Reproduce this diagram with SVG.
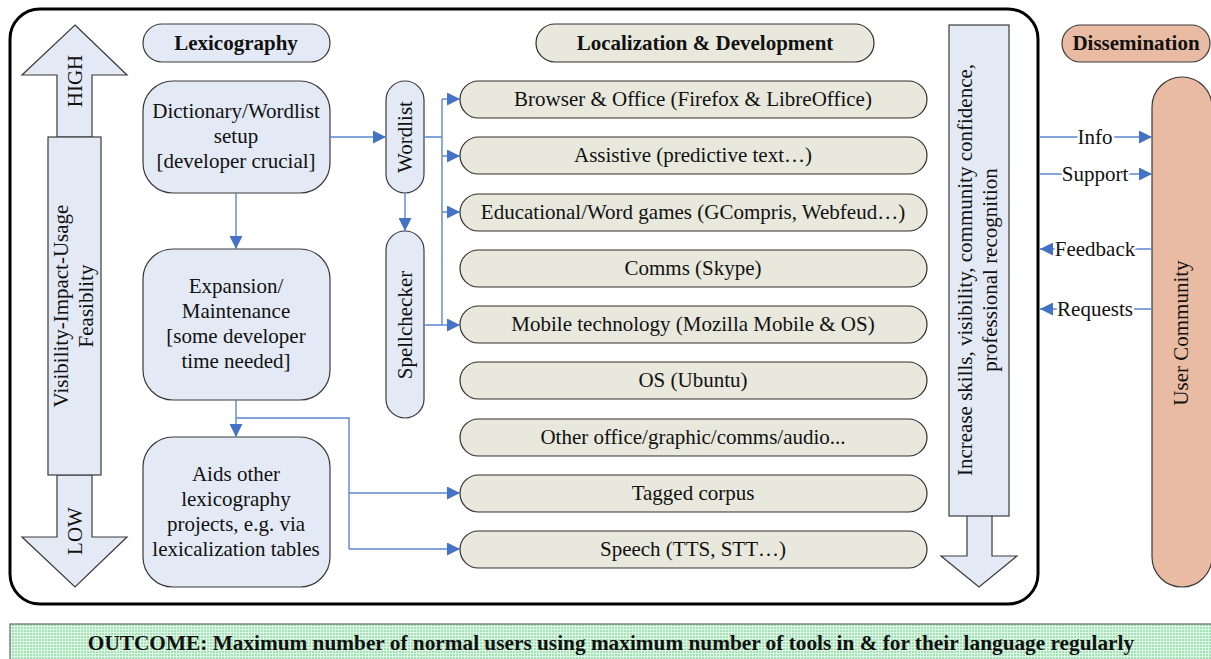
<svg xmlns="http://www.w3.org/2000/svg" width="1211" height="659" viewBox="0 0 1211 659">
  <style>
    text { font-family: "Liberation Serif", "Times New Roman", serif; font-size: 21px; fill: #111; }
    .c { text-anchor: middle; }
    .b { font-weight: bold; }
    .blue { fill: #E4EAF5; stroke: #3a3a3a; stroke-width: 1.2; }
    .tool { fill: #E8E8DD; stroke: #2e2e2e; stroke-width: 1.2; }
    .salmon { fill: #E8BBA2; stroke: #3a3a3a; stroke-width: 1.2; }
    .link { fill: none; stroke: #5B86CF; stroke-width: 1.4; }
    .halo { paint-order: stroke; stroke: #fff; stroke-width: 5px; stroke-linejoin: round; }
  </style>
  <defs>
    <marker id="ahL" viewBox="0 0 14 14" refX="14" refY="7" markerWidth="14" markerHeight="13" markerUnits="userSpaceOnUse" orient="auto">
      <path d="M0,0 L14,7 L0,14 z" fill="#4472C4"/>
    </marker>
    <pattern id="dots" width="3" height="3" patternUnits="userSpaceOnUse">
      <rect width="3" height="3" fill="#E2F6E7"/>
      <rect x="0" y="0" width="2" height="2" fill="#9FE2B3"/>
    </pattern>
  </defs>

  <!-- main frame -->
  <rect id="frame" x="10" y="9" width="1028" height="595" rx="30" ry="30" fill="#fff" stroke="#000" stroke-width="3"/>

  <!-- priority scale: double arrow on the left -->
  <g id="scale">
    <path class="blue" d="M75,25 L127,75 L92,75 L92,137 L57,137 L57,75 L22,75 Z"/>
    <path class="blue" d="M57,475 L92,475 L92,537 L127,537 L75,587 L22,537 L57,537 Z"/>
    <rect class="blue" x="48" y="137" width="53" height="338"/>
    <text class="c" transform="translate(82,81) rotate(-90)">HIGH</text>
    <text class="c" transform="translate(82,531) rotate(-90)">LOW</text>
    <text class="c" transform="translate(68,306) rotate(-90)">Visibility-Impact-Usage</text>
    <text class="c" transform="translate(93,306) rotate(-90)">Feasiblity</text>
  </g>

  <!-- column headers -->
  <g id="hdr-lex">
    <rect class="blue" x="143" y="24" width="187" height="38" rx="19"/>
    <text class="c b" x="236" y="50">Lexicography</text>
  </g>
  <g id="hdr-loc">
    <rect class="tool" x="536" y="24" width="338" height="38" rx="19"/>
    <text class="c b" x="705" y="50">Localization &amp; Development</text>
  </g>
  <g id="hdr-dis">
    <rect class="salmon" x="1062" y="25" width="148" height="37" rx="18.5"/>
    <text class="c b" x="1136" y="50">Dissemination</text>
  </g>

  <!-- lexicography stages -->
  <g id="dict">
    <rect class="blue" x="143" y="81" width="187" height="112" rx="30"/>
    <text class="c" x="236" y="118">Dictionary/Wordlist</text>
    <text class="c" x="236" y="143">setup</text>
    <text class="c" x="236" y="168">[developer crucial]</text>
  </g>
  <g id="expansion">
    <rect class="blue" x="143" y="249" width="187" height="151" rx="30"/>
    <text class="c" x="236" y="293">Expansion/</text>
    <text class="c" x="236" y="318">Maintenance</text>
    <text class="c" x="236" y="343">[some developer</text>
    <text class="c" x="236" y="368">time needed]</text>
  </g>
  <g id="aids">
    <rect class="blue" x="143" y="437" width="187" height="150" rx="30"/>
    <text class="c" x="236" y="481">Aids other</text>
    <text class="c" x="236" y="506">lexicography</text>
    <text class="c" x="236" y="531">projects, e.g. via</text>
    <text class="c" x="236" y="556">lexicalization tables</text>
  </g>

  <!-- derived resources -->
  <g id="wordlist">
    <rect class="blue" x="386" y="81" width="38" height="112" rx="19"/>
    <text class="c" transform="translate(412,137) rotate(-90)">Wordlist</text>
  </g>
  <g id="spellchecker">
    <rect class="blue" x="386" y="231" width="38" height="187" rx="19"/>
    <text class="c" transform="translate(412,325) rotate(-90)">Spellchecker</text>
  </g>

  <!-- localized tools -->
  <g id="t-browser"><rect class="tool" x="460" y="81" width="467" height="37" rx="18.5"/><text class="c" x="693" y="106">Browser &amp; Office (Firefox &amp; LibreOffice)</text></g>
  <g id="t-assistive"><rect class="tool" x="460" y="137" width="467" height="37" rx="18.5"/><text class="c" x="693" y="162">Assistive (predictive text…)</text></g>
  <g id="t-games"><rect class="tool" x="460" y="194" width="467" height="37" rx="18.5"/><text class="c" x="693" y="219">Educational/Word games (GCompris, Webfeud…)</text></g>
  <g id="t-comms"><rect class="tool" x="460" y="250" width="467" height="37" rx="18.5"/><text class="c" x="693" y="275">Comms (Skype)</text></g>
  <g id="t-mobile"><rect class="tool" x="460" y="306" width="467" height="37" rx="18.5"/><text class="c" x="693" y="331">Mobile technology (Mozilla Mobile &amp; OS)</text></g>
  <g id="t-os"><rect class="tool" x="460" y="362" width="467" height="37" rx="18.5"/><text class="c" x="693" y="387">OS (Ubuntu)</text></g>
  <g id="t-other"><rect class="tool" x="460" y="419" width="467" height="37" rx="18.5"/><text class="c" x="693" y="444">Other office/graphic/comms/audio...</text></g>
  <g id="t-corpus"><rect class="tool" x="460" y="475" width="467" height="37" rx="18.5"/><text class="c" x="693" y="500">Tagged corpus</text></g>
  <g id="t-speech"><rect class="tool" x="460" y="531" width="467" height="37" rx="18.5"/><text class="c" x="693" y="556">Speech (TTS, STT…)</text></g>

  <!-- benefits arrow -->
  <g id="benefits">
    <path class="blue" d="M967,515 L992,515 L992,556 L1017,556 L979,587 L941,556 L967,556 Z"/>
    <rect class="blue" x="949" y="25" width="60" height="491"/>
    <text class="c" transform="translate(972,270) rotate(-90)">Increase skills, visibility, community confidence,</text>
    <text class="c" transform="translate(997,270) rotate(-90)">professional recognition</text>
  </g>

  <!-- user community -->
  <g id="community">
    <rect class="salmon" x="1152" y="77" width="60" height="510" rx="30"/>
    <text class="c" transform="translate(1188,333) rotate(-90)">User Community</text>
  </g>

  <!-- connectors -->
  <g id="connectors">
    <path class="link" d="M236,193 V249" marker-end="url(#ahL)"/>
    <path class="link" d="M236,400 V437" marker-end="url(#ahL)"/>
    <path class="link" d="M330,137 H386" marker-end="url(#ahL)"/>
    <path class="link" d="M405,193 V231" marker-end="url(#ahL)"/>

    <path class="link" d="M424,137 H442 M442,99 V325 M424,325 H442"/>
    <path class="link" d="M442,99 H460" marker-end="url(#ahL)"/>
    <path class="link" d="M442,156 H460" marker-end="url(#ahL)"/>
    <path class="link" d="M442,212 H460" marker-end="url(#ahL)"/>
    <path class="link" d="M442,325 H460" marker-end="url(#ahL)"/>

    <path class="link" d="M236,418 H349 V549"/>
    <path class="link" d="M349,493 H460" marker-end="url(#ahL)"/>
    <path class="link" d="M349,549 H460" marker-end="url(#ahL)"/>

    <path class="link" d="M1040,137 H1152" marker-end="url(#ahL)"/>
    <path class="link" d="M1040,174 H1152" marker-end="url(#ahL)"/>
    <path class="link" d="M1152,249 H1040" marker-end="url(#ahL)"/>
    <path class="link" d="M1152,309 H1040" marker-end="url(#ahL)"/>
    <text class="c halo" x="1095" y="144">Info</text>
    <text class="c halo" x="1095" y="181">Support</text>
    <text class="c halo" x="1095" y="256">Feedback</text>
    <text class="c halo" x="1095" y="316">Requests</text>
  </g>

  <!-- outcome banner -->
  <g id="outcome">
    <rect x="10" y="624" width="1210" height="45" fill="url(#dots)" stroke="#6a6a6a" stroke-width="1.2"/>
    <text class="c b" x="611" y="650" style="font-size:21.3px">OUTCOME: Maximum number of normal users using maximum number of tools in &amp; for their language regularly</text>
  </g>
</svg>
